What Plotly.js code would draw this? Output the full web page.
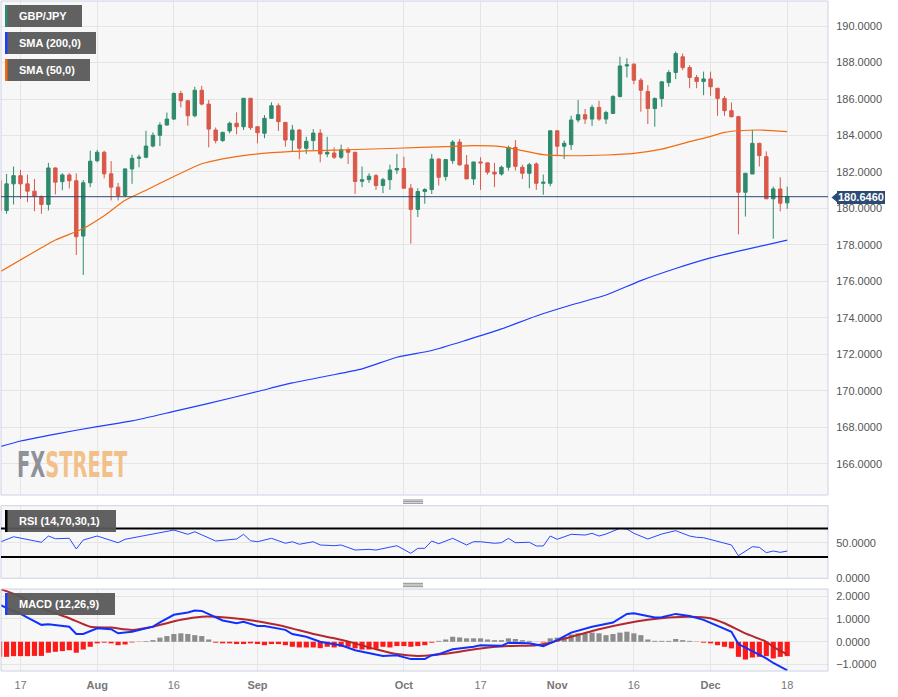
<!DOCTYPE html>
<html><head><meta charset="utf-8">
<script src="https://cdn.plot.ly/plotly-3.0.1.min.js"></script>
<style>html,body{margin:0;padding:0;background:#fff;}#chart{width:898px;height:697px;}</style>
</head><body><div id="chart"></div>
<script>
// ---- data (GBP/JPY daily, 2023) ----
const dates = ["07-12","07-13","07-14","07-17","07-18","07-19","07-20","07-21","07-24","07-25","07-26","07-27","07-28","07-31",
"08-01","08-02","08-03","08-04","08-07","08-08","08-09","08-10","08-11","08-14","08-15","08-16","08-17","08-18","08-21","08-22","08-23","08-24","08-25","08-28","08-29","08-30","08-31",
"09-01","09-04","09-05","09-06","09-07","09-08","09-11","09-12","09-13","09-14","09-15","09-18","09-19","09-20","09-21","09-22","09-25","09-26","09-27","09-28","09-29",
"10-02","10-03","10-04","10-05","10-06","10-09","10-10","10-11","10-12","10-13","10-16","10-17","10-18","10-19","10-20","10-23","10-24","10-25","10-26","10-27","10-30","10-31",
"11-01","11-02","11-03","11-06","11-07","11-08","11-09","11-10","11-13","11-14","11-15","11-16","11-17","11-20","11-21","11-22","11-23","11-24","11-27","11-28","11-29","11-30",
"12-01","12-04","12-05","12-06","12-07","12-08","12-11","12-12","12-13","12-14","12-15","12-18"];

const openP = [181.53,179.89,181.35,181.80,181.35,180.95,180.66,180.22,182.22,181.47,181.84,181.52,178.49,181.41,
182.62,183.08,181.90,181.17,180.71,182.17,182.75,182.81,183.42,184.01,184.57,184.90,186.30,185.90,185.08,186.48,185.72,184.30,183.72,184.25,184.67,184.48,186.04,
184.48,184.12,184.94,185.63,184.72,183.75,184.30,183.30,183.72,184.13,182.99,183.04,182.81,183.22,183.08,181.49,181.58,181.80,181.26,181.58,182.11,
182.19,181.11,179.95,180.93,181.04,182.71,181.75,182.62,183.64,182.39,181.62,182.55,182.50,181.99,181.89,182.26,183.35,182.26,181.93,182.44,181.38,181.38,
184.26,183.41,183.50,184.85,185.14,184.90,185.54,184.90,185.21,186.14,187.81,187.91,187.03,186.41,185.48,186.03,186.90,187.45,188.31,187.72,187.18,186.96,
187.10,186.59,186.03,185.36,185.03,180.89,181.89,183.57,182.84,180.53,181.07,180.31];

const highP = [181.60,181.89,182.30,182.11,181.86,181.62,180.71,182.50,182.26,181.93,181.93,181.93,181.56,183.17,
183.21,183.17,182.60,181.40,182.20,182.95,182.95,184.26,184.17,184.72,185.26,186.36,186.45,185.95,186.67,186.72,185.94,184.44,184.20,184.76,185.27,186.04,186.06,
184.50,185.12,185.82,185.76,184.72,184.58,184.35,183.93,184.35,184.35,183.93,183.35,183.50,183.35,183.10,182.30,181.93,181.89,181.68,182.40,182.99,
182.84,181.35,181.11,181.11,182.99,182.75,182.68,183.75,183.81,182.93,182.55,182.81,182.50,182.50,182.35,183.44,183.75,182.40,182.50,182.53,181.86,184.26,
184.26,183.72,185.08,185.94,185.45,185.68,185.90,185.36,186.21,188.31,188.23,187.95,187.14,186.76,186.08,186.99,187.58,188.60,188.49,187.85,187.32,187.50,
187.50,186.59,186.17,185.81,185.08,181.93,184.30,183.60,183.13,181.20,181.71,181.20];

const lowP = [179.44,179.71,180.22,180.53,180.35,179.85,179.71,179.89,180.77,181.00,181.10,177.45,176.36,181.17,
182.53,181.65,180.44,180.44,180.62,181.35,182.26,182.75,183.35,183.42,184.55,184.85,185.54,184.54,185.00,185.65,183.35,183.57,183.65,184.12,184.07,184.30,184.30,
183.57,183.85,184.94,184.25,183.39,183.11,182.70,182.99,183.17,182.53,182.81,182.71,182.71,182.44,180.80,181.17,181.40,181.02,180.84,181.02,181.89,
181.11,178.07,179.53,180.26,180.80,181.26,181.53,182.44,182.35,181.62,181.29,181.02,181.86,181.17,181.80,182.08,182.08,181.62,181.11,181.02,180.75,181.22,
182.90,182.71,183.21,184.72,184.63,184.52,184.81,184.63,185.21,186.08,187.18,186.81,185.30,184.63,184.48,185.57,186.67,187.09,187.58,186.59,186.59,186.21,
186.17,185.08,185.08,184.99,178.58,179.56,181.89,182.30,180.53,178.34,179.84,179.98];

const closeP = [179.89,181.35,181.80,181.35,180.95,180.66,180.22,182.22,181.44,181.84,181.52,178.45,181.41,182.59,
183.08,181.90,181.17,180.71,182.17,182.75,182.81,183.42,184.01,184.57,184.90,186.30,185.90,185.08,186.48,185.72,184.35,183.72,184.17,184.67,184.48,186.04,184.43,
184.15,184.94,185.63,184.76,183.75,184.30,183.30,183.68,184.13,182.99,183.08,182.81,183.22,183.08,181.48,181.58,181.77,181.26,181.58,182.11,182.19,
181.11,179.95,180.93,181.04,182.71,181.71,182.68,183.64,182.39,181.62,182.55,182.50,181.99,181.89,182.26,183.35,182.31,181.93,182.40,181.38,181.44,184.26,
183.41,183.57,184.85,185.14,184.90,185.54,184.90,185.26,186.14,187.81,187.87,187.03,186.48,185.48,186.03,186.94,187.45,188.49,187.72,187.18,186.96,187.10,
186.67,186.03,185.36,185.03,180.89,181.93,183.57,182.90,180.53,181.07,180.29,180.646];

const sma200Dates = ["07-12","07-17","07-24","08-01","08-08","08-16","08-23","09-01","09-08","09-15","09-22","09-29","10-06","10-13","10-20","10-27","11-03","11-10","11-17","11-24","12-01","12-08","12-18"];
const sma200 = [166.94,167.26,167.64,168.05,168.36,168.88,169.32,169.97,170.44,170.82,171.21,171.85,172.22,172.79,173.40,174.11,174.71,175.26,176.05,176.71,177.29,177.75,178.27];

const sma50Dates = ["07-12","07-20","07-24","07-28","08-02","08-07","08-10","08-16","08-22","08-25","08-31","09-08","09-20","09-29","10-10","10-16","10-20","10-24","10-30","11-03","11-10","11-16","11-22","11-28","12-01","12-05","12-07","12-12","12-18"];
const sma50 = [176.52,177.85,178.27,178.90,179.60,180.45,181.00,181.75,182.45,182.72,182.95,183.13,183.22,183.30,183.39,183.44,183.39,183.25,182.95,182.89,182.93,183.02,183.25,183.66,183.95,184.17,184.26,184.30,184.21];

const rsiDates = ["07-12","07-14","07-20","07-21","07-24","07-26","07-27","07-28","08-01","08-04","08-07","08-09","08-16","08-18","08-21","08-24","08-29","08-30","08-31","09-01","09-05","09-07","09-08","09-11","09-13","09-14","09-18","09-19","09-21","09-25","09-26","09-29","10-03","10-04","10-05","10-06","10-09","10-11","10-13","10-16","10-17","10-19","10-20","10-23","10-24","10-26","10-27","10-30","10-31","11-01","11-03","11-07","11-08","11-09","11-10","11-14","11-15","11-16","11-20","11-22","11-24","11-28","11-29","11-30","12-05","12-06","12-07","12-11","12-12","12-13","12-14","12-15","12-18"];
const rsi = [50.6,58.4,50.6,59.4,55.6,56.2,41.2,53.8,59.4,50.0,54.8,58.4,67.8,61.8,65.4,52.4,55.2,61.8,52.8,51.4,56.2,49.2,51.4,47.8,51.4,46.8,45.8,46.8,39.7,40.7,39.7,45.8,35.1,42.1,42.1,52.4,48.5,56.2,46.8,51.4,51.4,49.2,50.0,56.2,50.0,50.6,45.4,45.4,59.4,54.8,61.8,60.8,63.2,59.4,62.2,70.2,69.2,63.2,55.2,62.2,66.9,59.4,57.6,57.0,49.2,46.8,31.7,44.4,43.5,36.0,38.3,36.5,38.3];
const rsiUpper = 70, rsiLower = 30;

const macdDates = ["07-12","07-17","07-20","07-21","07-26","07-27","07-28","08-01","08-03","08-04","08-08","08-11","08-14","08-16","08-18","08-21","08-22","08-24","08-25","08-29","08-30","09-01","09-04","09-07","09-08","09-12","09-14","09-18","09-19","09-21","09-25","09-27","09-29","10-03","10-05","10-06","10-09","10-11","10-16","10-17","10-20","10-23","10-26","10-30","11-01","11-03","11-08","11-13","11-15","11-16","11-21","11-22","11-24","11-28","11-30","12-04","12-06","12-07","12-11","12-13","12-14","12-18"];
const macd = [1.62,1.22,0.74,0.77,0.66,0.34,0.34,0.59,0.55,0.37,0.44,0.66,0.85,1.18,1.28,1.37,1.35,1.06,0.93,0.81,0.87,0.69,0.69,0.52,0.34,0.22,0.0,-0.11,-0.15,-0.37,-0.51,-0.62,-0.59,-0.76,-0.76,-0.59,-0.54,-0.33,-0.22,-0.15,-0.18,-0.04,-0.07,-0.19,0.07,0.40,0.66,0.84,1.22,1.25,1.06,1.07,1.22,1.13,0.96,0.69,0.44,-0.10,-0.40,-0.73,-0.93,-1.25];

const signalDates = ["07-12","07-17","07-20","07-26","07-31","08-03","08-08","08-11","08-17","08-22","08-24","08-30","09-04","09-07","09-13","09-18","09-21","09-26","09-29","10-04","10-06","10-11","10-17","10-23","10-27","10-31","11-03","11-09","11-15","11-20","11-23","11-28","12-01","12-05","12-08","12-13","12-14","12-18"];
const signal = [2.32,1.98,1.47,1.03,0.66,0.62,0.52,0.66,0.96,1.10,1.10,0.99,0.84,0.66,0.34,0.15,-0.07,-0.33,-0.54,-0.62,-0.59,-0.48,-0.29,-0.19,-0.15,-0.04,0.22,0.55,0.81,0.96,1.06,1.10,1.03,0.81,0.37,0.0,-0.22,-0.55];

const histogram = [-0.66,-0.66,-0.63,-0.63,-0.63,-0.62,-0.62,-0.48,-0.44,-0.41,-0.37,-0.48,-0.34,-0.22,
-0.07,-0.04,-0.07,-0.15,-0.12,-0.03,-0.01,0.03,0.07,0.18,0.25,0.34,0.37,0.34,0.29,0.25,0.10,-0.04,-0.07,-0.07,-0.10,-0.10,-0.07,
-0.10,-0.15,-0.10,-0.10,-0.15,-0.22,-0.25,-0.25,-0.25,-0.28,-0.22,-0.25,-0.22,-0.22,-0.29,-0.34,-0.34,-0.31,-0.22,-0.25,-0.19,
-0.19,-0.22,-0.19,-0.15,-0.04,0.04,0.10,0.22,0.19,0.15,0.15,0.15,0.10,0.07,0.07,0.15,0.12,0.07,0.04,0.01,-0.03,0.15,
0.18,0.22,0.32,0.37,0.37,0.40,0.37,0.29,0.34,0.40,0.44,0.37,0.29,0.10,0.04,0.04,0.04,0.12,0.07,0.04,-0.01,-0.04,
-0.07,-0.15,-0.22,-0.29,-0.66,-0.78,-0.69,-0.66,-0.63,-0.73,-0.66,-0.63];

const lastPrice = 180.646;
const tickDates = ["07-17","08-01","08-16","09-01","10-02","10-17","11-01","11-16","12-01","12-18"];
const tickLabels = ["17","<b>Aug</b>","16","<b>Sep</b>","<b>Oct</b>","17","<b>Nov</b>","16","<b>Dec</b>","18"];
const priceTicks = [166,168,170,172,174,176,178,180,182,184,186,188,190];
const rsiTicks = [0,50];
const macdTicks = [-1,0,1,2];

// ---- geometry helpers (pixel -> paper) ----
const W = 898, H = 697, ML = 1, MR = 70, MT = 1, MB = 26;
const PW = W - ML - MR, PH = H - MT - MB;
const px = x => (x - ML) / PW;
const py = y => (H - MB - y) / PH;

const GREEN = '#2f8a6d', RED = '#d95848', BLUE = '#1f3dff', ORANGE = '#f26b12';
const FONT = 'Liberation Sans, Arial, sans-serif';

const traces = [
  {type:'candlestick', x:dates, open:openP, high:highP, low:lowP, close:closeP, xaxis:'x', yaxis:'y',
   increasing:{line:{color:GREEN,width:1}, fillcolor:GREEN},
   decreasing:{line:{color:RED,width:1}, fillcolor:RED}, whiskerwidth:0, hoverinfo:'none'},
  {type:'scatter', mode:'lines', x:sma50Dates, y:sma50, line:{color:ORANGE,width:1.2,shape:'spline',smoothing:0.6}, yaxis:'y', hoverinfo:'none'},
  {type:'scatter', mode:'lines', x:sma200Dates, y:sma200, line:{color:BLUE,width:1.2,shape:'spline',smoothing:0.6}, yaxis:'y', hoverinfo:'none'},
  {type:'scatter', mode:'lines', x:rsiDates, y:rsi, line:{color:'#2a48ff',width:1}, yaxis:'y2', hoverinfo:'none'},
  {type:'bar', x:dates, y:histogram, width:0.74, marker:{color:histogram.map(v => v >= 0 ? '#8c8c8c' : '#ff1a1a')}, yaxis:'y3', hoverinfo:'none'},
  {type:'scatter', mode:'lines', x:signalDates, y:signal, line:{color:'#b3282d',width:2,shape:'spline',smoothing:0.5}, yaxis:'y3', hoverinfo:'none'},
  {type:'scatter', mode:'lines', x:macdDates, y:macd, line:{color:'#1030ff',width:2}, yaxis:'y3', hoverinfo:'none'}
];

const gridC = '#e5e5e5', borderC = '#cdd1e4';
const mainDom = [py(495), 1], rsiDom = [py(578.3), py(505.7)], macdDom = [0, py(589)];

const yBase = {side:'right', showgrid:true, gridcolor:gridC, zeroline:false, tickformat:'.4f',
  tickfont:{family:FONT, size:11, color:'#555'}, ticks:'outside', ticklen:5, tickcolor:'rgba(0,0,0,0)', showline:false, fixedrange:true};

const shapes = [];
const annotations = [];
// panel borders
[[mainDom],[rsiDom],[macdDom]].forEach(([d]) => shapes.push({type:'rect', xref:'paper', yref:'paper', x0:0, x1:1, y0:d[0], y1:d[1], line:{color:borderC,width:1}, layer:'above'}));
// last price line
shapes.push({type:'line', xref:'paper', yref:'y', x0:0, x1:1, y0:lastPrice, y1:lastPrice, line:{color:'#2b4a74',width:1}, layer:'above'});
// RSI bands
[rsiUpper, rsiLower].forEach(v => shapes.push({type:'line', xref:'paper', yref:'y2', x0:0, x1:1, y0:v, y1:v, line:{color:'#000',width:2}, layer:'above'}));
// splitter handles
[[500,501.7,503.3],[583.3,585,586.7]].forEach(ys => ys.forEach(y => shapes.push({type:'line', xref:'paper', yref:'paper', x0:px(403), x1:px(423), y0:py(y), y1:py(y), line:{color:'#8a8a8a',width:1}})));
// legend boxes
function tag(x0,y0,x1,y1,stripe,text){
  shapes.push({type:'rect', xref:'paper', yref:'paper', x0:px(x0), x1:px(x1), y0:py(y1), y1:py(y0), fillcolor:'rgba(88,88,88,0.95)', line:{width:0}, layer:'above'});
  shapes.push({type:'rect', xref:'paper', yref:'paper', x0:px(x0), x1:px(x0+2.5), y0:py(y1), y1:py(y0), fillcolor:stripe, line:{width:0}, layer:'above'});
  annotations.push({xref:'paper', yref:'paper', x:px(x0+12), y:py((y0+y1)/2), xanchor:'left', yanchor:'middle', showarrow:false,
    text:'<b>'+text+'</b>', font:{family:FONT, size:11, color:'#fff'}});
}
tag(5,5,82,27,GREEN,'GBP/JPY');
tag(5,32,96,54,BLUE,'SMA (200,0)');
tag(5,59,90,81,ORANGE,'SMA (50,0)');
tag(5,510,116,532,'#000','RSI (14,70,30,1)');
tag(5,593,115,615,BLUE,'MACD (12,26,9)');
// price tag
const tagY = 197.5;
shapes.push({type:'rect', xref:'paper', yref:'paper', x0:px(837), x1:px(885), y0:py(tagY+6.5), y1:py(tagY-6.5), fillcolor:'#2b4a74', line:{width:0}, layer:'above'});
shapes.push({type:'path', xref:'paper', yref:'paper', path:`M ${px(831.5)} ${py(tagY)} L ${px(837.5)} ${py(tagY-5)} L ${px(837.5)} ${py(tagY+5)} Z`, fillcolor:'#2b4a74', line:{width:0}, layer:'above'});
annotations.push({xref:'paper', yref:'paper', x:px(861), y:py(tagY), xanchor:'center', yanchor:'middle', showarrow:false,
  text:'<b>'+lastPrice.toFixed(4)+'</b>', font:{family:FONT, size:11, color:'#fff'}});
// watermark
annotations.push({xref:'paper', yref:'paper', x:px(17), y:py(464), xanchor:'left', yanchor:'middle', showarrow:false,
  text:'<b><span style="color:#8f9199">FX</span><span style="color:#f2c089">STREET</span></b>', font:{family:'DejaVu Sans Condensed, Liberation Sans Narrow, sans-serif', size:27}});

const layout = {
  width:W, height:H, margin:{l:ML, r:MR, t:MT, b:MB, pad:0},
  paper_bgcolor:'#ffffff', plot_bgcolor:'#f7f7f7', showlegend:false, hovermode:false, bargap:0.3,
  xaxis:{type:'category', range:[0.2, 118.85], anchor:'y3', tickvals:tickDates, ticktext:tickLabels,
    showgrid:true, gridcolor:gridC, ticks:'outside', ticklen:4, tickcolor:'rgba(0,0,0,0)',
    tickfont:{family:FONT, size:11, color:'#777'}, rangeslider:{visible:false}, showline:false, zeroline:false, fixedrange:true},
  yaxis:Object.assign({}, yBase, {domain:mainDom, range:[164.30, 191.37], tickvals:priceTicks}),
  yaxis2:Object.assign({}, yBase, {domain:rsiDom, range:[0, 102], tickvals:rsiTicks}),
  yaxis3:Object.assign({}, yBase, {domain:macdDom, range:[-1.28, 2.31], tickvals:macdTicks}),
  shapes:shapes, annotations:annotations
};

Plotly.newPlot('chart', traces, layout, {staticPlot:true, displayModeBar:false}).then(gd => {
  // stretch the watermark into the tall, narrow logo lettering (text stays real text)
  const t = Array.from(gd.querySelectorAll('.annotation-text')).find(e => e.textContent === 'FXSTREET');
  if (t) {
    const bb = t.getBBox();
    const ax = bb.x, ay = bb.y + bb.height / 2;
    t.setAttribute('transform', `translate(${ax - 2},${ay}) scale(0.8,1.33) translate(${-ax},${-ay})`);
  }
});
</script></body></html>
